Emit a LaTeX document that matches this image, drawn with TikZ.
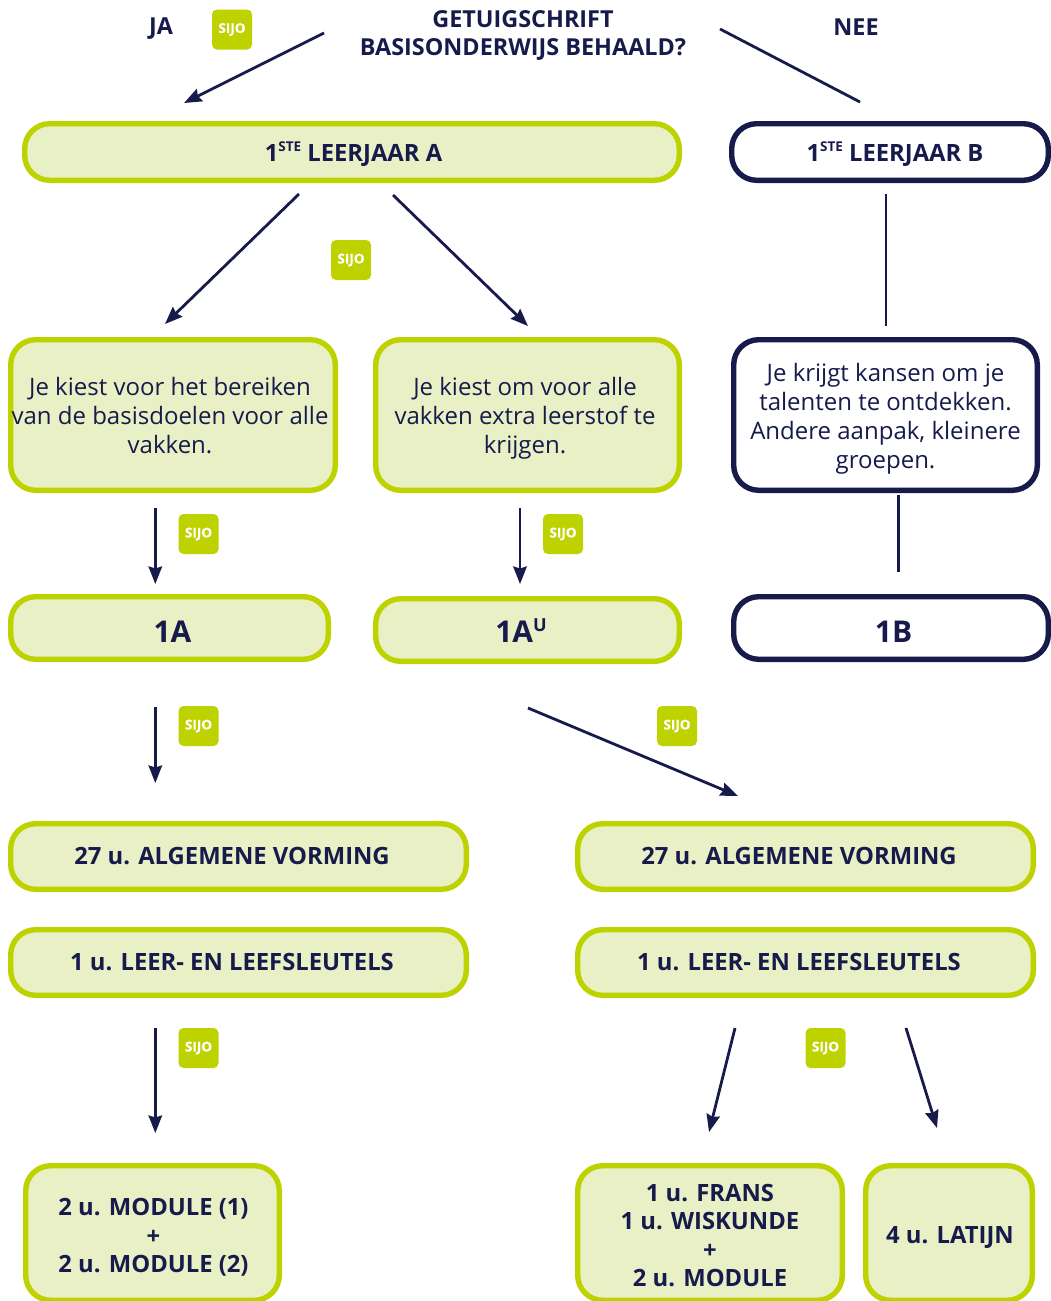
\documentclass[tikz,border=0pt]{standalone}
\usepackage{fontspec}
\setmainfont{Open Sans}
\newfontfamily\heavyfont{Open Sans}[BoldFeatures={FakeBold=0.5}]
\usetikzlibrary{arrows.meta}
\definecolor{lime}{HTML}{BED200}
\definecolor{pale}{HTML}{EAF0C6}
\definecolor{navy}{HTML}{161B4B}
\newcommand{\up}[1]{\raisebox{0.42em}{\fontsize{13.5}{13.5}\selectfont #1}}
\newcommand{\off}[3]{\hspace*{#1pt}\raisebox{-#2pt}[\height][\depth]{\begin{tabular}{@{}c@{}}#3\end{tabular}}\hspace*{-#1pt}}
\newcommand{\sijo}{\raisebox{-1.5pt}{SIJO}}
\tikzset{
  x=1pt,y=-1pt,
  box/.style={draw=lime,fill=pale,line width=5.4pt,rounded corners=25pt,text=navy,inner sep=0pt,font=\fontsize{23.8}{28.5}\selectfont\bfseries},
  whitebox/.style={box,draw=navy,fill=white},
  plain/.style={font=\fontsize{24}{29}\selectfont\mdseries},
  big/.style={font=\fontsize{30}{36}\selectfont\bfseries},
  label/.style={text=navy,align=center,inner sep=0pt,font=\fontsize{23.4}{28.5}\selectfont\bfseries},
  badge/.style={fill=lime,text=white,rounded corners=5pt,minimum width=40pt,minimum height=40pt,inner sep=0pt,font=\heavyfont\fontsize{13.5}{13.5}\selectfont\bfseries},
  link/.style={draw=navy,line width=2.8pt},
  arrow/.style={link,-{Stealth[length=17.5pt,width=13.5pt,inset=2pt]}},
}
% [style]{name}{x1}{y1}{x2}{y2}{text}: outer edges of the box in pixels
\newcommand{\boxat}[7][box]{%
  \pgfmathsetmacro{\bw}{#5-#3-5.4}\pgfmathsetmacro{\bh}{#6-#4-5.4}%
  \pgfmathsetmacro{\bx}{(#3+#5)/2}\pgfmathsetmacro{\by}{(#4+#6)/2}%
  \node[#1,minimum width=\bw pt,minimum height=\bh pt] (#2) at (\bx,\by) {#7};}
\begin{document}
\begin{tikzpicture}
\useasboundingbox (0,0) rectangle (1051,1301);
\clip (0,0) rectangle (1051,1301);
% headings
\node[label] (vraag) at (523,35.5) {GETUIGSCHRIFT\\BASISONDERWIJS BEHAALD?};
\node[label] (jaword) at (161,29) {JA};
\node[label] (neeword) at (856,27) {NEE};
% boxes
\boxat{ja}{22}{121}{682}{183}{\off{1.5}{4}{1\up{STE} LEERJAAR A}}
\boxat[whitebox]{nee}{729}{121}{1051}{183}{\off{5}{4}{1\up{STE} LEERJAAR B}}
\boxat[box,plain]{basis}{8}{337}{338}{493}{\off{-3}{4}{Je kiest voor het bereiken\\van de basisdoelen voor alle\\vakken.}}
\boxat[box,plain]{extra}{373}{337}{682}{493}{\off{-2.5}{4}{Je kiest om voor alle\\vakken extra leerstof te\\krijgen.}}
\boxat[whitebox,plain]{kansen}{731}{337}{1040}{493}{\off{0}{4}{Je krijgt kansen om je\\talenten te ontdekken.\\Andere aanpak, kleinere\\groepen.}}
\boxat[box,big]{eenA}{8}{594}{331}{662}{\off{3}{7}{1A}}
\boxat[box,big]{eenAU}{373}{596}{682}{664}{\off{-6.5}{5}{1A\raisebox{0.36em}{\fontsize{18}{18}\selectfont U}}}
\boxat[whitebox,big]{eenB}{731}{594}{1051}{662}{\off{2.5}{7}{1B}}
\boxat{algL}{8}{821}{469}{892}{\off{-6.5}{2}{27 u. ALGEMENE VORMING}}
\boxat{algR}{575}{821}{1036}{892}{\off{-6.5}{2}{27 u. ALGEMENE VORMING}}
\boxat{leerL}{8}{927}{469}{998}{\off{-6.5}{2}{1 u. LEER- EN LEEFSLEUTELS}}
\boxat{leerR}{575}{927}{1036}{998}{\off{-6.5}{2}{1 u. LEER- EN LEEFSLEUTELS}}
\boxat{modules}{23}{1163}{282}{1303}{\off{1}{5.5}{2 u. MODULE (1)\\+\\2 u. MODULE (2)}}
\boxat{frans}{575}{1163}{845}{1303}{\off{0}{5.5}{1 u. FRANS\\1 u. WISKUNDE\\+\\2 u. MODULE}}
\boxat{latijn}{863}{1163}{1035}{1303}{\off{1}{5}{4 u. LATIJN}}
% badges
\node[badge] (s1) at (232,29.5) {\sijo};
\node[badge] (s2) at (351,260) {\sijo};
\node[badge] (s3) at (198.5,534) {\sijo};
\node[badge] (s4) at (563,534) {\sijo};
\node[badge] (s5) at (198.5,726) {\sijo};
\node[badge] (s6) at (677,726) {\sijo};
\node[badge] (s7) at (198.5,1048) {\sijo};
\node[badge] (s8) at (825.5,1048) {\sijo};
% floating connector ends
\coordinate (a1) at (324,33);   \coordinate (b1) at (184,103);
\coordinate (a2) at (720,29);   \coordinate (b2) at (860,102);
\coordinate (a3) at (299,194);  \coordinate (b3) at (165,324);
\coordinate (a4) at (393,195);  \coordinate (b4) at (528,326);
\coordinate (a5) at (886,194);  \coordinate (b5) at (886,326);
\coordinate (a6) at (155.3,508);  \coordinate (b6) at (155.3,584);
\coordinate (a7) at (520,508);  \coordinate (b7) at (520,584);
\coordinate (a8) at (898.5,495);  \coordinate (b8) at (898.5,572);
\coordinate (a9) at (155.3,707);  \coordinate (b9) at (155.3,783);
\coordinate (a10) at (528,708); \coordinate (b10) at (738,796);
\coordinate (a11) at (155.3,1028);\coordinate (b11) at (155.3,1133);
\coordinate (a12) at (735,1028);\coordinate (b12) at (709,1132);
\coordinate (a13) at (906,1028);\coordinate (b13) at (937,1128);
\draw[arrow] (a1) -- (b1);
\draw[link] (a2) -- (b2);
\draw[arrow] (a3) -- (b3);
\draw[arrow] (a4) -- (b4);
\draw[link] (a5) -- (b5);
\draw[arrow] (a6) -- (b6);
\draw[arrow] (a7) -- (b7);
\draw[link] (a8) -- (b8);
\draw[arrow] (a9) -- (b9);
\draw[arrow] (a10) -- (b10);
\draw[arrow] (a11) -- (b11);
\draw[arrow] (a12) -- (b12);
\draw[arrow] (a13) -- (b13);
\end{tikzpicture}
\end{document}
